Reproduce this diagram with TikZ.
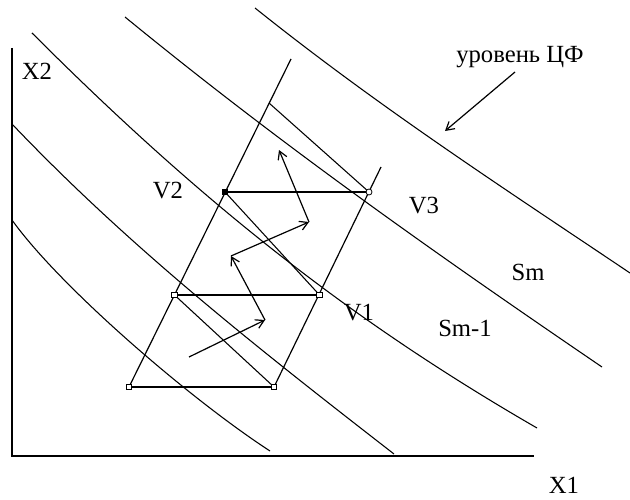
\documentclass[tikz,border=0pt]{standalone}
\usepackage{fontspec}
\setmainfont{Liberation Serif}
\usetikzlibrary{arrows.meta,calc}
\begin{document}
\begin{tikzpicture}[x=0.75pt,y=-0.75pt,
  curve/.style={line width=0.8pt},
  axis/.style={line width=1.1pt},
  edge/.style={line width=0.9pt},
  move/.style={line width=0.9pt,-{Straight Barb[length=6pt,width=7pt]}},
  lbl/.style={font=\fontsize{18.5}{20}\selectfont, inner sep=0pt},
  vmark/.style={draw, fill=white, minimum size=4pt, inner sep=0pt, line width=0.6pt},
  vfill/.style={draw, fill=black, minimum size=4pt, inner sep=0pt, line width=0.6pt}]
\useasboundingbox (0,0) rectangle (630,499);

% axes
\coordinate (O) at (12,456);
\coordinate (Ytop) at (12,48);
\coordinate (Xend) at (534,456);
\draw[axis] (Ytop) -- (O) -- (Xend);
\node[lbl] (X2) at (37,71) {X2};
\node[lbl] (X1) at (564,485) {X1};

% level lines
\draw[curve] (12,220) .. controls (60,287) and (190,399) .. (270,451);
\draw[curve] (12,124) .. controls (132,250) and (264,353) .. (394,454);
\draw[curve] (32,33) .. controls (202,203) and (350,320) .. (537,428);
\draw[curve] (125,17) .. controls (285,148) and (442,258) .. (602,367);
\draw[curve] (255,8) .. controls (380,108) and (505,189) .. (630,273);

% parallelogram
\coordinate (BL) at (129,387);
\coordinate (BR) at (274,387);
\coordinate (ML) at (174.5,295);
\coordinate (MR) at (319.5,295);
\coordinate (V2p) at (225,192);
\coordinate (V3p) at (369,192);
\coordinate (LT) at (291,59);
\coordinate (RT) at (381,167);
\coordinate (G) at (269,103);

\draw[edge] (BL) -- (LT);
\draw[edge] (BR) -- (RT);
\draw[edge] (BL) -- (BR);
\draw[edge] (ML) -- (MR);
\draw[edge] (V2p) -- (V3p);
\draw[curve] (ML) -- (BR);
\draw[curve] (V2p) -- (MR);
\draw[curve] (G) -- (V3p);

\node[vmark] at (BL) {};
\node[vmark] at (BR) {};
\node[vmark] at (ML) {};
\node[vmark] at (MR) {};
\node[vfill] at (V2p) {};
\node[vmark, circle, minimum size=4.5pt] at (V3p) {};

% search path
\coordinate (p1) at (189,357);
\coordinate (p2) at (265,320);
\coordinate (p3) at (231,256);
\coordinate (p4) at (309,222);
\coordinate (p5) at (279,150);
\draw[move] (p1) -- (p2);
\draw[move] (p2) -- (p3);
\draw[move] (p3) -- (p4);
\draw[move] (p4) -- (p5);

% labels
\node[lbl] (V2) at (168,191) {V2};
\node[lbl] (V3) at (424,206) {V3};
\node[lbl] (V1) at (359,313) {V1};
\node[lbl] (Sm) at (528,272) {Sm};
\node[lbl] (Sm1) at (465,328) {Sm-1};
\node[lbl] (lvl) at (520,57) {уровень ЦФ};
\coordinate (ptail) at (515,72);
\coordinate (phead) at (445,131);
\draw[move] (ptail) -- (phead);
\end{tikzpicture}
\end{document}
